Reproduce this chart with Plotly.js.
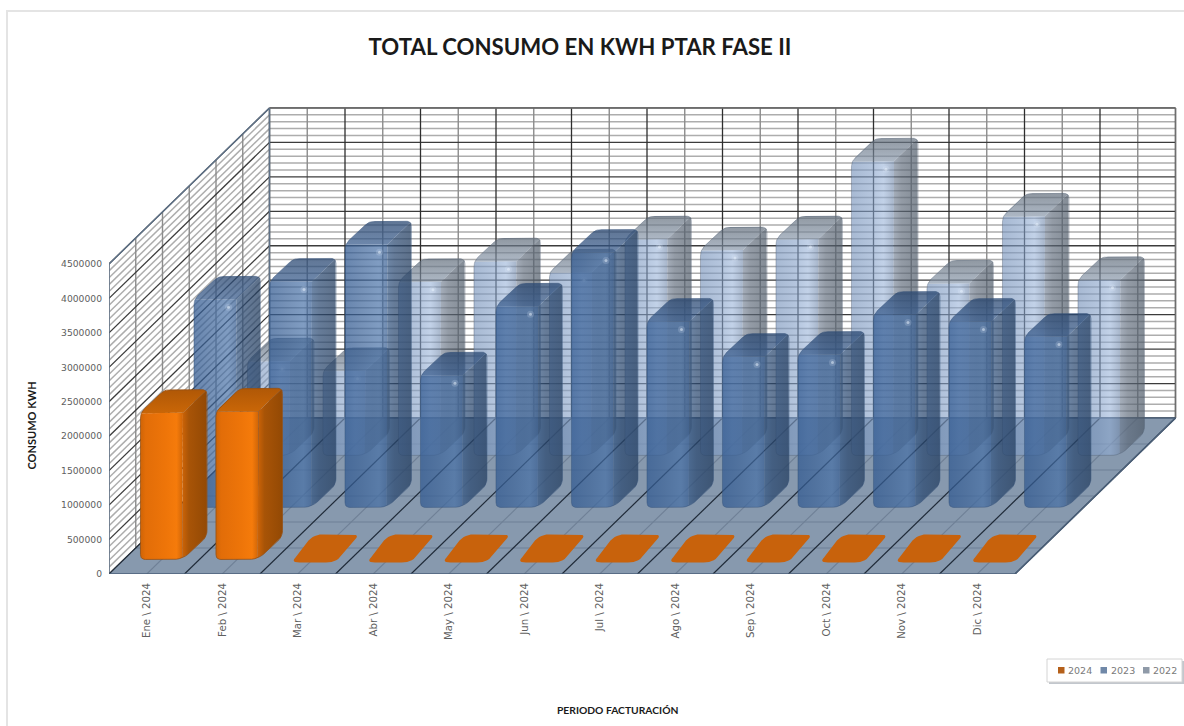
<!DOCTYPE html>
<html>
<head>
<meta charset="utf-8">
<script src="https://cdn.plot.ly/plotly-3.0.1.min.js"></script>
<style>
html,body{margin:0;padding:0;background:#fff;overflow:hidden}
#frame{position:absolute;left:6px;top:10px;width:1200px;height:720px;border-left:2px solid #e4e4e4;border-top:2px solid #e4e4e4}
#chart{position:absolute;left:0;top:0;width:1184px;height:726px}
</style>
</head>
<body>
<div id="frame"></div>
<div id="chart"></div>
<script>
// Monthly energy use of the treatment plant, one row of 3D columns per year.
const categories = ['Ene \\ 2024','Feb \\ 2024','Mar \\ 2024','Abr \\ 2024','May \\ 2024','Jun \\ 2024',
                    'Jul \\ 2024','Ago \\ 2024','Sep \\ 2024','Oct \\ 2024','Nov \\ 2024','Dic \\ 2024'];
const kwh2024 = [2130000,2150000,0,0,0,0,0,0,0,0,0,0];
const kwh2023 = [3020000,3280000,3820000,1920000,2920000,3700000,2700000,2190000,2220000,2800000,2700000,2480000];
const kwh2022 = [1370000,1230000,2520000,2820000,2660000,3140000,2980000,3140000,4270000,2500000,3470000,2550000];
const valueTicks = [0,500000,1000000,1500000,2000000,2500000,3000000,3500000,4000000,4500000];
const legendYears = ['2024','2023','2022'];

// Oblique projection: screen scale of the axes and the shift per depth row.
const PX_PER_CAT = 75.5, PX_PER_KWH = 68.9e-6;
const ROW_PX_X = 53.5, ROW_PX_Y = 52;
const DX = ROW_PX_X / PX_PER_CAT, DY = ROW_PX_Y / PX_PER_KWH;
const ROWS = 3, MAX_V = 4500000;
const margin = {l:109, r:4, t:106, b:152};
const plotW = 1184 - margin.l - margin.r, plotH = 726 - margin.t - margin.b;

// Column footprint in pixels.
const COL_W = 42.5, COL_DX = 24, COL_DY = 23, ROW_GAP = 0.28, CAT_GAP = 16.5 / PX_PER_CAT;

const traces = [];
function addLines(pairs, color, width) {
  const x = [], y = [];
  pairs.forEach(p => { x.push(p[0], p[2], null); y.push(p[1], p[3], null); });
  traces.push({type:'scatter', mode:'lines', x, y, line:{color, width}, hoverinfo:'skip', showlegend:false});
}

// Wall grids.
function wallLines(step, skipMajor) {
  const back = [], side = [];
  for (let v = 0; v <= MAX_V; v += step) {
    if (skipMajor && v % 500000 === 0) continue;
    back.push([ROWS*DX, v + ROWS*DY, 12 + ROWS*DX, v + ROWS*DY]);
    side.push([0, v, ROWS*DX, v + ROWS*DY]);
  }
  return back.concat(side);
}
addLines(wallLines(100000, true), '#adadad', 1.5);
const backVMinor = [], backVMajor = [];
for (let c = 0; c <= 12; c += 0.5) {
  (Number.isInteger(c) ? backVMajor : backVMinor).push([c + ROWS*DX, ROWS*DY, c + ROWS*DX, MAX_V + ROWS*DY]);
}
const sideV = [];
for (let d = 0; d <= ROWS; d += 0.5) sideV.push([d*DX, d*DY, d*DX, MAX_V + d*DY]);
addLines(backVMinor.concat(sideV), '#8c8c8c', 1.4);
addLines(wallLines(500000, false), '#3c3c3c', 1.3);
addLines(backVMajor, '#2e2e2e', 1.3);
addLines([[ROWS*DX, MAX_V+ROWS*DY, 12+ROWS*DX, MAX_V+ROWS*DY],[12+ROWS*DX, ROWS*DY, 12+ROWS*DX, MAX_V+ROWS*DY]], '#6e6e6e', 1.4);
addLines([[0, MAX_V, ROWS*DX, MAX_V+ROWS*DY],[0, 0, 0, MAX_V],[ROWS*DX, ROWS*DY, ROWS*DX, MAX_V+ROWS*DY]], '#5f7288', 1.4);

// Floor.
traces.push({type:'scatter', mode:'lines', fill:'toself', fillcolor:'#8799ae', line:{width:0},
  x:[0,12,12+ROWS*DX,ROWS*DX,0], y:[0,0,ROWS*DY,ROWS*DY,0], hoverinfo:'skip', showlegend:false});
const floorMinor = [], floorMajor = [];
for (let d = 0.5; d < ROWS; d += 0.5) floorMinor.push([d*DX, d*DY, 12 + d*DX, d*DY]);
for (let c = 0; c <= 12; c += 0.5) {
  (Number.isInteger(c) ? floorMajor : floorMinor).push([c, 0, c + ROWS*DX, ROWS*DY]);
}
addLines(floorMinor, '#6f8096', 1.1);
addLines(floorMajor, '#1f2a38', 1.2);
addLines([[0,0,12,0],[12,0,12+ROWS*DX,ROWS*DY],[ROWS*DX,ROWS*DY,12+ROWS*DX,ROWS*DY]], '#4a5f78', 1.6);

// Samples of a quadratic curve between parameters t0 and t1.
function curve(p0, c, p1, t0, t1) {
  const pts = [];
  for (let i = 0; i <= 6; i++) {
    const t = t0 + (t1 - t0) * i / 6, u = 1 - t;
    pts.push([u*u*p0[0] + 2*u*t*c[0] + t*t*p1[0], u*u*p0[1] + 2*u*t*c[1] + t*t*p1[1]]);
  }
  return pts;
}

// Outline of one column in local pixels (y upwards from its base), split into three faces.
function columnFaces(H) {
  const R = COL_W, X = R + COL_DX, Y = COL_DY;
  const lowL = [[0,5],[0,0],[5,0]];
  const lowR = [[R-10,0],[R,0],[R+7,7]];
  const lowX = [[X-5,Y-5],[X,Y],[X,Y+6]];
  const topL = [[0,H-6],[0,H],[4,H+4]];
  const topR = [[X,H+Y-5],[X,H+Y],[X-5,H+Y]];
  const topB = [[COL_DX+6,H+Y],[COL_DX,H+Y],[COL_DX-4,H+Y-4]];
  const front = [...curve(...lowL,0,1), ...curve(...lowR,0,.5), [R,H], ...curve(...topL,.5,0)];
  const side = [...curve(...lowR,.5,1), ...curve(...lowX,0,1), ...curve(...topR,0,.5), [R,H]];
  const top = [...curve(...topL,.5,.5).slice(0,1), [R,H], ...curve(...topR,.5,1), ...curve(...topB,0,1), ...curve(...topL,1,.5)];
  const rim = [...curve(...lowL,0,1), ...curve(...lowR,0,1), ...curve(...lowX,0,1), ...curve(...topR,0,1),
               ...curve(...topB,0,1), ...curve(...topL,1,0)];
  return {front, side, top, rim};
}
// Flat rounded footprint for a month with no consumption yet.
function flatFace() {
  const R = COL_W + 1, X = R + COL_DX + 1, Y = COL_DY + 2, B = -3, L = -1;
  return [...curve([L+9,B],[L,B],[L+5,B+5],0,1), ...curve([L+COL_DX-6,Y-6],[L+COL_DX,Y],[L+COL_DX+8,Y],0,1),
          ...curve([X-8,Y],[X,Y],[X-5,Y-5],0,1), ...curve([R+5,B+5],[R,B],[R-9,B],0,1)];
}

const palette = {
  2024:{front:[[0,'#cf6406'],[.12,'#e26d08'],[.6,'#ee7509'],[.85,'#f57b0b'],[1,'#cf6507']],
        side:[[0,'#c96207'],[.25,'#a85407'],[1,'#934904']], top:[[0,'#c96607'],[1,'#b05806']],
        edge:'rgba(150,80,20,.8)', flat:'#c8620c', swatch:'#b5601a'},
  2023:{front:[[0,'rgba(50,90,145,.74)'],[.4,'rgba(58,98,152,.7)'],[.8,'rgba(68,110,165,.68)'],[1,'rgba(56,94,146,.72)']],
        side:[[0,'rgba(52,86,130,.72)'],[.3,'rgba(42,72,112,.72)'],[1,'rgba(36,62,96,.74)']], top:[[0,'rgba(52,88,138,.72)'],[1,'rgba(40,70,112,.74)']],
        edge:'rgba(50,80,120,.45)', swatch:'#7088a8'},
  2022:{front:[[0,'rgba(118,146,186,.64)'],[.5,'rgba(132,160,200,.6)'],[.75,'rgba(146,174,214,.56)'],[1,'rgba(118,140,172,.64)']],
        side:[[0,'rgba(108,122,142,.62)'],[.3,'rgba(92,104,120,.66)'],[1,'rgba(78,90,104,.7)']], top:[[0,'rgba(130,146,166,.66)'],[1,'rgba(96,108,122,.7)']],
        edge:'rgba(80,95,115,.4)', swatch:'#8f9aa8'}
};

// Columns run back row first, so nearer rows cover the farther ones.
function addSeries(name, values, row) {
  const colors = palette[name];
  const rowDepth = row + ROW_GAP;
  const glowX = [], glowY = [];
  values.forEach((v, i) => {
    const x0 = i + CAT_GAP + rowDepth * DX, y0 = rowDepth * DY;
    const toX = p => x0 + p[0] / PX_PER_CAT, toY = p => y0 + p[1] / PX_PER_KWH;
    const face = (pts, scale, orient, start, stop) => {
      const closed = pts.concat([pts[0]]);
      traces.push({type:'scatter', mode:'lines', fill:'toself', x:closed.map(toX), y:closed.map(toY),
        line:{width:0}, fillgradient:{type:orient, colorscale:scale, start, stop},
        hoverinfo:'skip', showlegend:false});
    };
    if (v === 0) {
      const closed = flatFace(); closed.push(closed[0]);
      traces.push({type:'scatter', mode:'lines', fill:'toself', x:closed.map(toX), y:closed.map(toY),
        fillcolor:colors.flat, line:{width:0}, hoverinfo:'skip', showlegend:false});
      return;
    }
    const H = v * PX_PER_KWH;
    const f = columnFaces(H);
    face(f.front, colors.front, 'horizontal', x0, toX([COL_W,0]));
    face(f.side, colors.side, 'horizontal', toX([COL_W,0]), toX([COL_W+COL_DX,0]));
    face(f.top, colors.top, 'vertical', toY([0,H]), toY([0,H+COL_DY]));
    const rim = f.rim.concat([f.rim[0]]);
    traces.push({type:'scatter', mode:'lines', x:rim.map(toX), y:rim.map(toY),
      line:{color:colors.edge, width:1}, hoverinfo:'skip', showlegend:false});
    glowX.push(toX([COL_W-8,0])); glowY.push(toY([0,H-8]));
  });
  if (glowX.length && name !== '2024') {
    traces.push({type:'scatter', mode:'markers', x:glowX, y:glowY, marker:{size:7, color:'rgba(225,238,255,.18)'}, hoverinfo:'skip', showlegend:false});
    traces.push({type:'scatter', mode:'markers', x:glowX, y:glowY, marker:{size:3, color:'rgba(235,245,255,.5)'}, hoverinfo:'skip', showlegend:false});
  }
}
addSeries('2022', kwh2022, 2);
addSeries('2023', kwh2023, 1);
addSeries('2024', kwh2024, 0);

const titleFont = 'Lato, "Noto Sans", sans-serif';
const tickFont = '"DejaVu Sans", sans-serif';
const paperX = px => (px - margin.l) / plotW;
const paperY = py => (726 - margin.b - py) / plotH;
const box = (x0, y0, x1, y1, fill, line) => ({type:'rect', xref:'paper', yref:'paper', layer:'above',
  x0:paperX(x0), x1:paperX(x1), y0:paperY(y0), y1:paperY(y1), fillcolor:fill, line:line || {width:0}});

// Year key at the lower right.
const keyLeft = [1058, 1100.5, 1143];
const keyShapes = [
  box(1049, 661, 1184, 684, 'rgba(120,130,145,.45)'),
  box(1047, 659, 1182, 682, '#ffffff', {color:'#d4d4d4', width:1})
].concat(legendYears.map((y, i) => box(keyLeft[i], 667, keyLeft[i] + 6.5, 673.5, palette[y].swatch)));
const keyLabels = legendYears.map((y, i) => ({text:y, xref:'paper', yref:'paper', x:paperX(keyLeft[i] + 8), y:paperY(670),
  xanchor:'left', yanchor:'middle', showarrow:false, font:{family:tickFont, size:9.5, color:'#7a7a7a'}}));

const layout = {
  width:1184, height:726, margin, paper_bgcolor:'rgba(0,0,0,0)', plot_bgcolor:'rgba(0,0,0,0)',
  title:{text:'TOTAL CONSUMO EN KWH PTAR FASE II', x:580/1184, xanchor:'center', y:1-47/726, yanchor:'middle',
         font:{family:titleFont, size:22.2, color:'#1a1a1a', weight:700}},
  xaxis:{range:[0, plotW/PX_PER_CAT], tickmode:'array', tickvals:categories.map((_, i) => i + 0.5), ticktext:categories,
         tickangle:-90, showgrid:false, zeroline:false, showline:false, ticks:'', ticklabelstandoff:6,
         tickfont:{family:tickFont, size:10.2, color:'#606060'}, fixedrange:true},
  yaxis:{range:[0, plotH/PX_PER_KWH], tickmode:'array', tickvals:valueTicks, ticktext:valueTicks.map(String),
         showgrid:false, zeroline:false, showline:false, ticks:'', ticklabelstandoff:6,
         tickfont:{family:tickFont, size:9.2, color:'#606060'}, fixedrange:true},
  shapes:keyShapes,
  annotations:[
    {text:'CONSUMO KWH', xref:'paper', yref:'paper', x:paperX(30.5), y:paperY(426), textangle:-90,
     xanchor:'center', yanchor:'middle', showarrow:false, font:{family:titleFont, size:11, weight:700, color:'#1a1a1a'}},
    {text:'PERIODO FACTURACIÓN', xref:'paper', yref:'paper', x:paperX(617.5), y:paperY(710),
     xanchor:'center', yanchor:'middle', showarrow:false, font:{family:titleFont, size:10.3, weight:700, color:'#1a1a1a'}},
    ...keyLabels
  ],
  showlegend:false
};
Plotly.newPlot('chart', traces, layout, {displayModeBar:false, responsive:false});
</script>
</body>
</html>
